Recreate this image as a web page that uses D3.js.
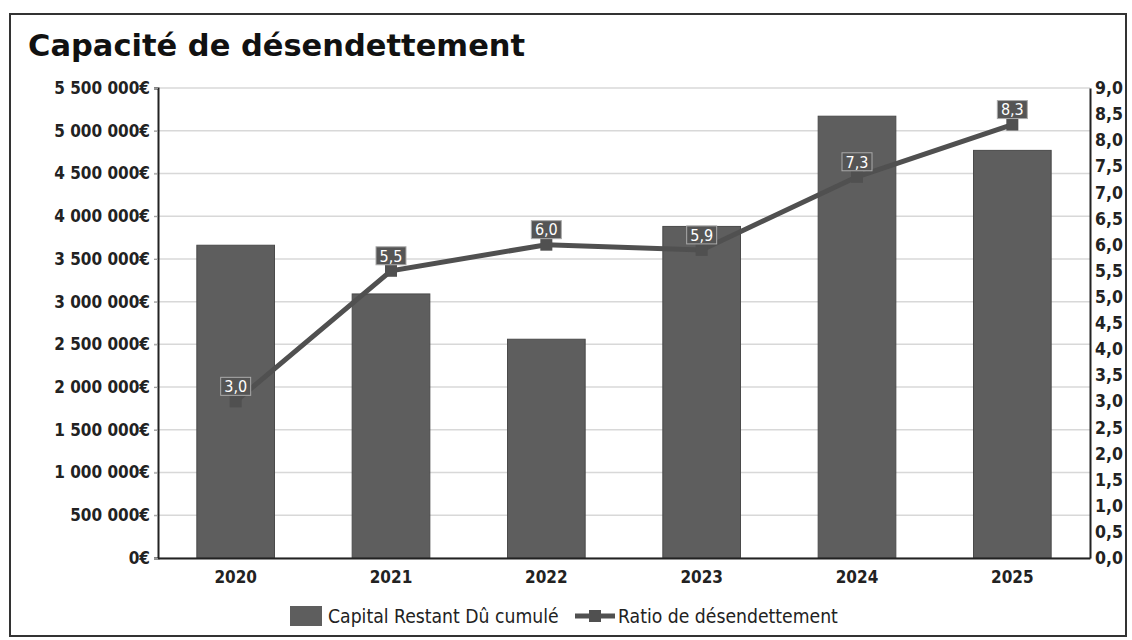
<!DOCTYPE html>
<html><head><meta charset="utf-8">
<script src="https://cdnjs.cloudflare.com/ajax/libs/d3/7.8.5/d3.min.js"></script>
<style>
html,body{margin:0;padding:0;background:#fff;}
svg{display:block;font-family:"DejaVu Sans",sans-serif;}
.cond{font-family:"DejaVu Sans Condensed","DejaVu Sans",sans-serif;font-stretch:condensed;}
</style></head><body>
<svg id="c" width="1132" height="640"></svg>
<script>
const categories = ["2020","2021","2022","2023","2024","2025"];
const capitalValues = [3660000, 3090000, 2560000, 3880000, 5170000, 4770000];
const ratioValues = [3.0, 5.5, 6.0, 5.9, 7.3, 8.3];
const leftTicks = [0,500000,1000000,1500000,2000000,2500000,3000000,3500000,4000000,4500000,5000000,5500000];
const rightTicks = [0,0.5,1,1.5,2,2.5,3,3.5,4,4.5,5,5.5,6,6.5,7,7.5,8,8.5,9];
const seriesNames = ["Capital Restant Dû cumulé","Ratio de désendettement"];
const title = "Capacité de désendettement";

const fr = d3.formatLocale({decimal:",", thousands:" ", grouping:[3], currency:["","€"]});
const fmtL = fr.format("$,.0f");
const fmtR = fr.format(",.1f");

const svg = d3.select("#c");
const L = 158, R = 1090, T = 88, B = 558;
const barColor = "#5e5e5e", lineColor = "#505050";

// frame
svg.append("rect").attr("x",10).attr("y",14).attr("width",1116).attr("height",622)
  .attr("fill","none").attr("stroke","#333").attr("stroke-width",2);

svg.append("text").attr("x",28).attr("y",56).attr("font-size",30.5).attr("font-weight","bold")
  .attr("fill","#111").text(title);

const x = d3.scaleBand().domain(categories).range([L,R]).paddingInner(0.5).paddingOuter(0.25);
const yL = d3.scaleLinear().domain([0,5500000]).range([B,T]);
const yR = d3.scaleLinear().domain([0,9]).range([B,T]);

// gridlines
svg.append("g").selectAll("line").data(leftTicks).join("line")
  .attr("x1",L-4).attr("x2",R).attr("y1",d=>yL(d)).attr("y2",d=>yL(d))
  .attr("stroke","#d8d8d8").attr("stroke-width",1.5);

// left axis
const gL = svg.append("g").attr("transform",`translate(${L},0)`)
  .call(d3.axisLeft(yL).tickValues(leftTicks).tickFormat(fmtL).tickSize(4).tickPadding(4));
gL.select(".domain").attr("stroke","#222").attr("stroke-width",2);
gL.selectAll(".tick line").attr("stroke","#999");
gL.selectAll("text").attr("class","cond").attr("font-size",17).attr("font-weight","bold").attr("fill","#222")
  .attr("font-family",null);

// right axis
const gR = svg.append("g").attr("transform",`translate(${R},0)`)
  .call(d3.axisRight(yR).tickValues(rightTicks).tickFormat(fmtR).tickSize(0).tickPadding(5));
gR.select(".domain").attr("stroke","#222").attr("stroke-width",2);
gR.selectAll("text").attr("class","cond").attr("font-size",17.5).attr("font-weight","bold").attr("fill","#222")
  .attr("font-family",null);

// bars
svg.append("g").selectAll("rect").data(categories).join("rect")
  .attr("x",d=>x(d)).attr("width",x.bandwidth())
  .attr("y",(d,i)=>yL(capitalValues[i])).attr("height",(d,i)=>B-yL(capitalValues[i]))
  .attr("fill",barColor).attr("stroke","#4a4a4a").attr("stroke-width",1);

// bottom axis
const gB = svg.append("g").attr("transform",`translate(0,${B})`)
  .call(d3.axisBottom(x).tickSize(0).tickPadding(13));
gB.select(".domain").attr("stroke","#222").attr("stroke-width",2);
gB.selectAll("text").attr("class","cond").attr("font-size",17).attr("font-weight","bold").attr("fill","#222")
  .attr("font-family",null);

// line
const cx = d => x(d) + x.bandwidth()/2;
const line = d3.line().x((d,i)=>cx(categories[i])).y(d=>yR(d));
svg.append("path").datum(ratioValues).attr("d",line).attr("fill","none")
  .attr("stroke",lineColor).attr("stroke-width",5);
svg.append("g").selectAll("rect").data(ratioValues).join("rect")
  .attr("x",(d,i)=>cx(categories[i])-6).attr("y",d=>yR(d)-6)
  .attr("width",12).attr("height",12).attr("fill",lineColor);

// value labels
const lg = svg.append("g").selectAll("g").data(ratioValues).join("g")
  .attr("transform",(d,i)=>`translate(${cx(categories[i])},${yR(d)-15})`);
lg.append("rect").attr("x",-15).attr("y",-9).attr("width",30).attr("height",18)
  .attr("fill","#555").attr("stroke","#aaa").attr("stroke-width",1);
lg.append("text").attr("class","cond").attr("text-anchor","middle").attr("dy","0.36em").attr("font-size",16)
  .attr("fill","#fff").text(d=>fmtR(d));

// legend
const ly = 616;
svg.append("rect").attr("x",290).attr("y",ly-10).attr("width",32).attr("height",20).attr("fill",barColor);
svg.append("text").attr("class","cond").attr("x",328).attr("y",ly).attr("dy","0.35em").attr("font-size",19.2)
  .attr("fill","#222").text(seriesNames[0]);
svg.append("line").attr("x1",575).attr("x2",615).attr("y1",ly).attr("y2",ly)
  .attr("stroke",lineColor).attr("stroke-width",5);
svg.append("rect").attr("x",589).attr("y",ly-6).attr("width",12).attr("height",12).attr("fill",lineColor);
svg.append("text").attr("class","cond").attr("x",618).attr("y",ly).attr("dy","0.35em").attr("font-size",19.2)
  .attr("fill","#222").text(seriesNames[1]);
</script></body></html>
